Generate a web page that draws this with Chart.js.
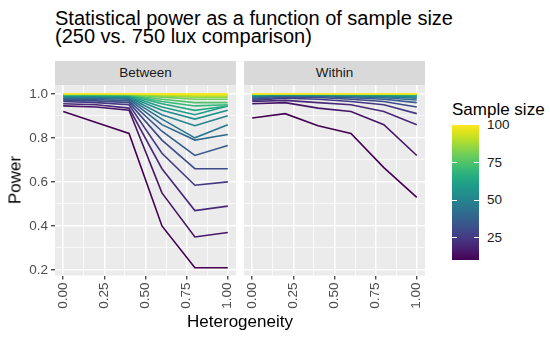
<!DOCTYPE html>
<html>
<head>
<meta charset="utf-8">
<script src="https://cdn.jsdelivr.net/npm/chart.js@4.4.1/dist/chart.umd.min.js"></script>
<style>
  body { margin: 0; background: #fff; }
  #wrap { position: relative; width: 550px; height: 339px; overflow: hidden; font-family: "Liberation Sans", Arial, sans-serif; }
  .txt { position: absolute; white-space: nowrap; color: #000; }
  .strip { position: absolute; background: #d9d9d9; color: #1a1a1a; font-size: 13.5px; text-align: center; line-height: 24px; height: 24px; }
  canvas { position: absolute; }
</style>
</head>
<body>
<div id="wrap">
  <div class="txt" style="left:55px; top:9px; font-size:20px; line-height:18px;">Statistical power as a function of sample size<br>(250 vs. 750 lux comparison)</div>
  <div class="strip" style="left:55px; top:61px; width:181px;">Between</div>
  <div class="strip" style="left:244px; top:61px; width:181px;">Within</div>
  <canvas id="between" width="237" height="254" style="left:0px; top:85px;"></canvas>
  <canvas id="within" width="182" height="254" style="left:244px; top:85px;"></canvas>
  <div class="txt" style="left:240px; top:313px; font-size:17px; line-height:17px; transform:translateX(-50%);">Heterogeneity</div>
  <div class="txt" style="left:15px; top:180px; font-size:17px; line-height:17px; transform:translate(-50%,-50%) rotate(-90deg);">Power</div>
  <div id="legend"></div>
</div>
<script>
// heterogeneity levels on the x axis
var heterogeneity = [0, 0.2, 0.4, 0.6, 0.8, 1.0];
var sampleSizes = [10, 15, 20, 25, 30, 35, 40, 45, 50, 55, 60, 65, 70, 75, 80, 85, 90, 95, 100];

// power per sample size (rows) at each heterogeneity level
var betweenPower = [
  [0.92, 0.87, 0.82, 0.40, 0.21, 0.21],
  [0.945, 0.94, 0.925, 0.55, 0.35, 0.37],
  [0.955, 0.95, 0.935, 0.66, 0.47, 0.49],
  [0.965, 0.96, 0.95, 0.73, 0.585, 0.60],
  [0.97, 0.968, 0.96, 0.79, 0.66, 0.66],
  [0.975, 0.974, 0.968, 0.83, 0.72, 0.765],
  [0.98, 0.979, 0.975, 0.86, 0.79, 0.815],
  [0.984, 0.983, 0.98, 0.885, 0.80, 0.86],
  [0.987, 0.987, 0.984, 0.905, 0.855, 0.90],
  [0.99, 0.99, 0.987, 0.925, 0.885, 0.925],
  [0.992, 0.992, 0.99, 0.94, 0.905, 0.945],
  [0.994, 0.994, 0.992, 0.955, 0.925, 0.945],
  [0.996, 0.996, 0.994, 0.965, 0.945, 0.95],
  [0.997, 0.997, 0.996, 0.975, 0.96, 0.96],
  [0.998, 0.998, 0.997, 0.985, 0.975, 0.975],
  [0.999, 0.999, 0.998, 0.99, 0.985, 0.985],
  [1.0, 1.0, 0.999, 0.995, 0.99, 0.99],
  [1.0, 1.0, 1.0, 0.998, 0.995, 0.995],
  [1.0, 1.0, 1.0, 1.0, 1.0, 1.0]
];
var withinPower = [
  [0.89, 0.91, 0.855, 0.82, 0.665, 0.53],
  [0.955, 0.96, 0.935, 0.92, 0.86, 0.72],
  [0.965, 0.97, 0.96, 0.95, 0.92, 0.86],
  [0.97, 0.98, 0.975, 0.965, 0.95, 0.91],
  [0.975, 0.985, 0.983, 0.975, 0.965, 0.94],
  [0.98, 0.99, 0.988, 0.982, 0.975, 0.96],
  [0.985, 0.992, 0.991, 0.987, 0.982, 0.972],
  [0.988, 0.994, 0.993, 0.99, 0.987, 0.98],
  [0.991, 0.996, 0.995, 0.993, 0.99, 0.985],
  [0.993, 0.997, 0.996, 0.995, 0.993, 0.99],
  [0.995, 0.998, 0.997, 0.996, 0.995, 0.993],
  [0.996, 0.999, 0.998, 0.997, 0.997, 0.995],
  [0.997, 0.999, 0.999, 0.998, 0.998, 0.997],
  [0.998, 1.0, 0.999, 0.999, 0.999, 0.998],
  [0.999, 1.0, 1.0, 1.0, 0.999, 0.999],
  [1.0, 1.0, 1.0, 1.0, 1.0, 1.0],
  [1.0, 1.0, 1.0, 1.0, 1.0, 1.0],
  [1.0, 1.0, 1.0, 1.0, 1.0, 1.0],
  [1.0, 1.0, 1.0, 1.0, 1.0, 1.0]
];

// axis ticks (major get labels, the rest are minor grid lines)
var xTicks = [0, 0.25, 0.5, 0.75, 1.0];
var xTickLabels = ['0.00', '0.25', '0.50', '0.75', '1.00'];
var xGrid = [0, 0.125, 0.25, 0.375, 0.5, 0.625, 0.75, 0.875, 1.0];
var yTicks = [0.2, 0.4, 0.6, 0.8, 1.0];
var yTickLabels = ['0.2', '0.4', '0.6', '0.8', '1.0'];
var yGrid = [0.2, 0.3, 0.4, 0.5, 0.6, 0.7, 0.8, 0.9, 1.0];
var legendTicks = [25, 50, 75, 100];
var sizeMin = 10, sizeMax = 100;

var FONT = '"Liberation Sans", Arial, sans-serif';

var viridisStops = ['#440154', '#471365', '#482475', '#463480', '#414487', '#3b528b', '#355f8d',
  '#2f6c8e', '#2a788e', '#25848e', '#21918c', '#1e9c89', '#22a884', '#2fb47c', '#44bf70',
  '#5ec962', '#7ad151', '#9bd93c', '#bddf26', '#dfe318', '#fde725'];

function hexToRgb(h) {
  return [parseInt(h.substr(1, 2), 16), parseInt(h.substr(3, 2), 16), parseInt(h.substr(5, 2), 16)];
}

function viridis(t) {
  t = Math.max(0, Math.min(1, t));
  var pos = t * (viridisStops.length - 1);
  var i = Math.min(Math.floor(pos), viridisStops.length - 2);
  var f = pos - i;
  var a = hexToRgb(viridisStops[i]), b = hexToRgb(viridisStops[i + 1]);
  var c = [0, 1, 2].map(function (k) { return Math.round(a[k] + (b[k] - a[k]) * f); });
  return 'rgb(' + c[0] + ',' + c[1] + ',' + c[2] + ')';
}

var panelBg = {
  id: 'panelBg',
  beforeDraw: function (chart) {
    var a = chart.chartArea, c = chart.ctx;
    c.save();
    c.fillStyle = '#ebebeb';
    c.fillRect(a.left, a.top, a.right - a.left, a.bottom - a.top);
    c.restore();
  }
};

// keep the panel exactly where the layout puts it: no label overflow padding
function noPadding(ax) {
  ax.paddingLeft = 0; ax.paddingRight = 0; ax.paddingTop = 0; ax.paddingBottom = 0;
}

function makePanel(canvasId, powers, showY) {
  var datasets = [];
  // largest sample size first so it is drawn on top
  for (var i = sampleSizes.length - 1; i >= 0; i--) {
    datasets.push({
      label: 'n = ' + sampleSizes[i],
      data: heterogeneity.map(function (h, j) { return { x: h, y: powers[i][j] }; }),
      borderColor: viridis((sampleSizes[i] - sizeMin) / (sizeMax - sizeMin)),
      borderWidth: 1.6,
      pointRadius: 0,
      tension: 0,
      fill: false
    });
  }

  return new Chart(document.getElementById(canvasId), {
    type: 'line',
    data: { datasets: datasets },
    plugins: [panelBg],
    options: {
      responsive: false,
      animation: false,
      layout: { padding: { top: 0, right: 1, bottom: 0, left: 0 } },
      plugins: { legend: { display: false }, tooltip: { enabled: false } },
      scales: {
        x: {
          type: 'linear', min: -0.05, max: 1.05,
          afterBuildTicks: function (ax) { ax.ticks = xGrid.map(function (v) { return { value: v }; }); },
          afterFit: function (ax) { ax.height = 63.5; noPadding(ax); },
          ticks: {
            autoSkip: false, minRotation: 90, maxRotation: 90, padding: 3,
            color: '#4d4d4d', font: { family: FONT, size: 13.5 },
            callback: function (v) { var k = xTicks.indexOf(v); return k >= 0 ? xTickLabels[k] : ''; }
          },
          grid: {
            color: '#ffffff',
            lineWidth: function (ctx) { return xTicks.indexOf(ctx.tick.value) >= 0 ? 1.5 : 0.7; },
            tickColor: function (ctx) { return xTicks.indexOf(ctx.tick.value) >= 0 ? '#333333' : 'rgba(0,0,0,0)'; },
            tickWidth: 1.2, tickLength: 4
          },
          border: { display: false }
        },
        y: {
          type: 'linear', min: 0.175, max: 1.04,
          afterBuildTicks: function (ax) { ax.ticks = yGrid.map(function (v) { return { value: v }; }); },
          afterFit: function (ax) { ax.width = showY ? 55 : 0; noPadding(ax); },
          ticks: {
            display: showY, padding: 3,
            color: '#4d4d4d', font: { family: FONT, size: 13.5 },
            callback: function (v) { var k = yTicks.indexOf(v); return k >= 0 ? yTickLabels[k] : ''; }
          },
          grid: {
            color: '#ffffff',
            drawTicks: showY,
            lineWidth: function (ctx) { return yTicks.indexOf(ctx.tick.value) >= 0 ? 1.5 : 0.7; },
            tickColor: function (ctx) { return yTicks.indexOf(ctx.tick.value) >= 0 ? '#333333' : 'rgba(0,0,0,0)'; },
            tickWidth: 1.2, tickLength: 4
          },
          border: { display: false }
        }
      }
    }
  });
}

makePanel('between', betweenPower, true);
makePanel('within', withinPower, false);

// colour bar legend
function buildLegend() {
  var lg = document.getElementById('legend');
  var barLeft = 452, barTop = 125, barW = 27, barH = 135;
  var stops = viridisStops.map(function (c, i) {
    return c + ' ' + (i / (viridisStops.length - 1) * 100).toFixed(1) + '%';
  });
  var html = '<div class="txt" style="left:' + barLeft + 'px; top:101px; font-size:17px; line-height:17px;">Sample size</div>';
  html += '<div style="position:absolute; left:' + barLeft + 'px; top:' + barTop + 'px; width:' + barW + 'px; height:' + barH +
    'px; background:linear-gradient(to top,' + stops.join(',') + ');"></div>';
  legendTicks.forEach(function (v) {
    var y = barTop + barH - (v - sizeMin) / (sizeMax - sizeMin) * barH;
    if (v < sizeMax) {
      html += '<div style="position:absolute; left:' + barLeft + 'px; top:' + (y - 0.5) + 'px; width:5px; height:1px; background:#fff;"></div>';
      html += '<div style="position:absolute; left:' + (barLeft + barW - 5) + 'px; top:' + (y - 0.5) + 'px; width:5px; height:1px; background:#fff;"></div>';
    }
    html += '<div class="txt" style="left:' + (barLeft + barW + 8) + 'px; top:' + (y - 6.6) + 'px; font-size:13.5px; line-height:13.5px; color:#1a1a1a;">' + v + '</div>';
  });
  lg.innerHTML = html;
}
buildLegend();
</script>
</body>
</html>
